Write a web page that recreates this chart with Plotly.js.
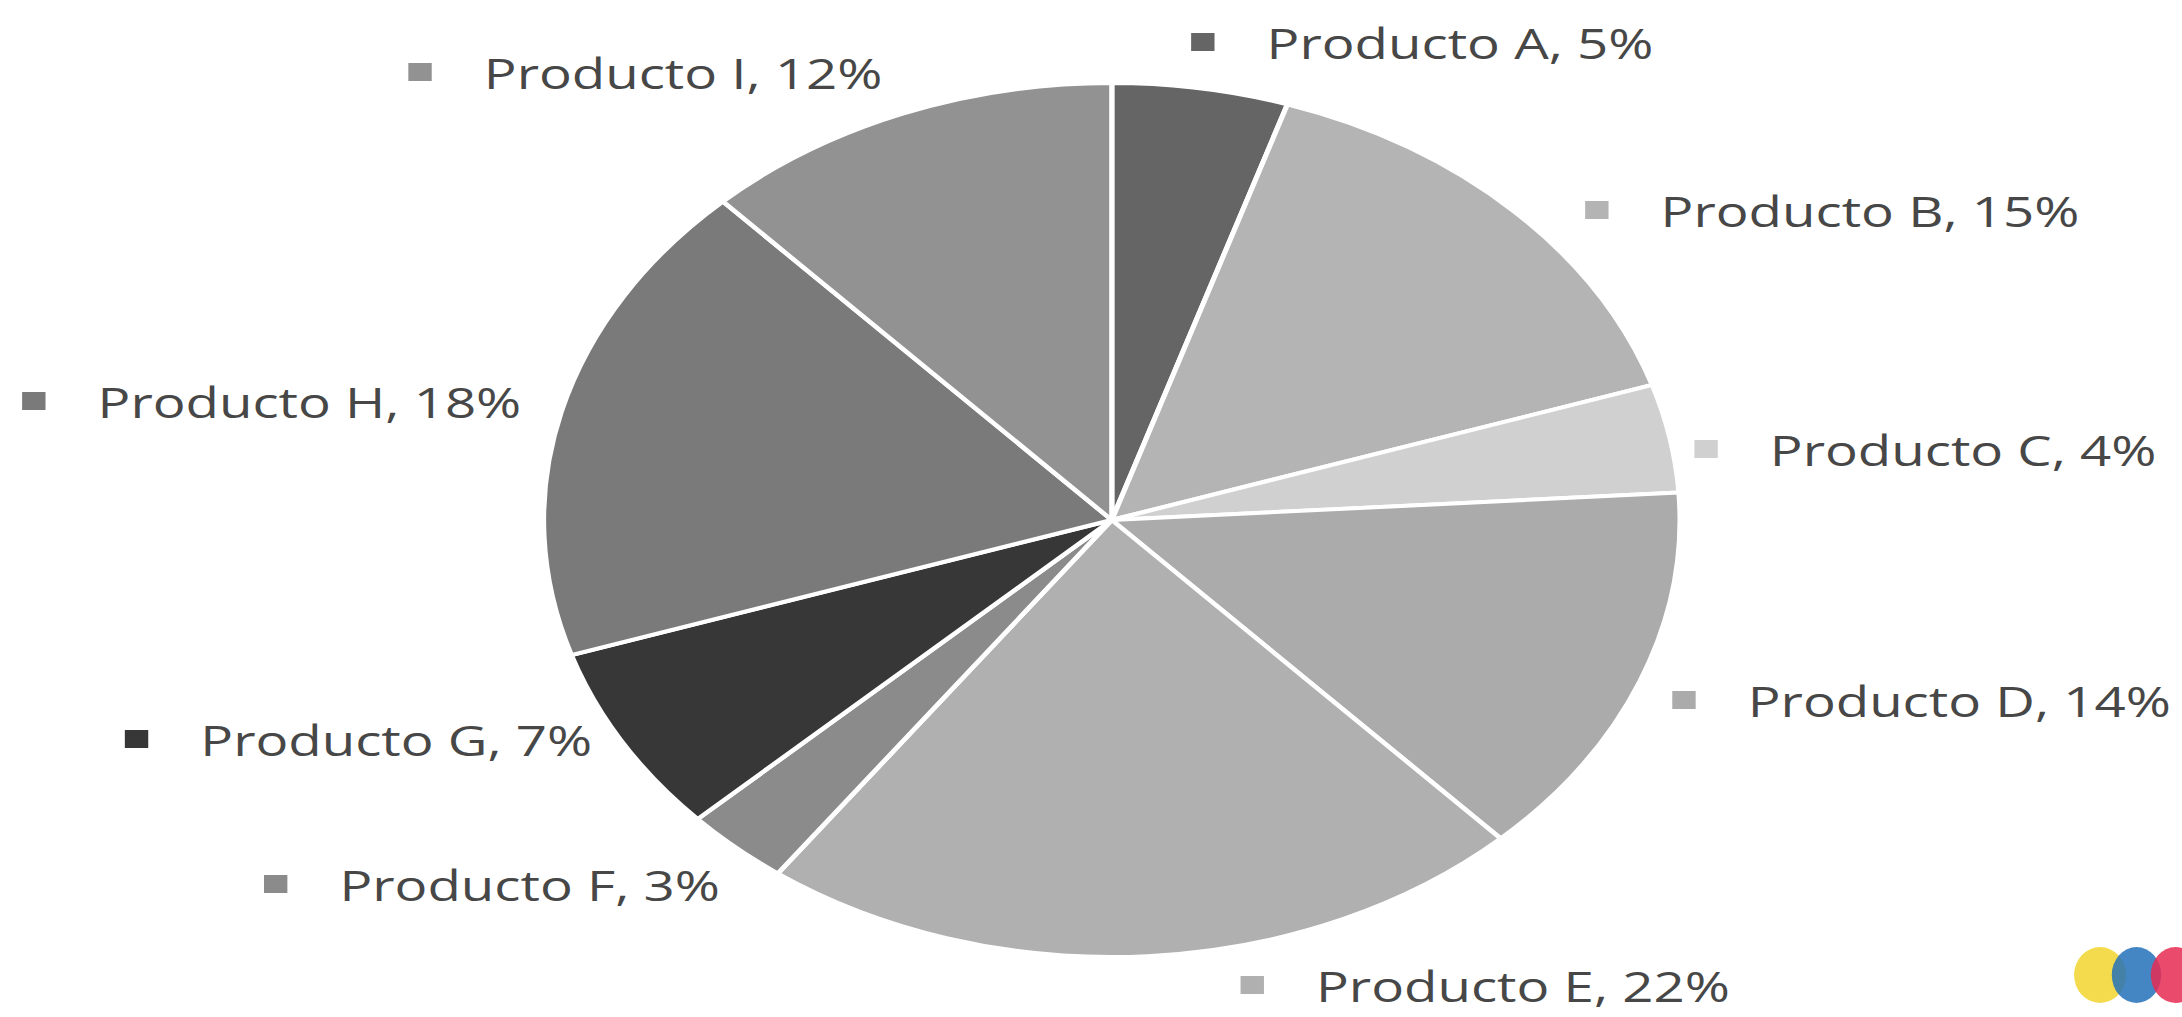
<!DOCTYPE html>
<html>
<head>
<meta charset="utf-8">
<script src="https://cdn.plot.ly/plotly-3.0.1.min.js"></script>
<style>
  html, body { margin: 0; padding: 0; background: #ffffff; overflow: hidden; }
  #chart { position: absolute; left: 0; top: 0; transform-origin: 0 0; }
</style>
</head>
<body>
<div id="chart"></div>
<script>
// ---- data ----
const products = ["Producto A", "Producto B", "Producto C", "Producto D", "Producto E",
                  "Producto F", "Producto G", "Producto H", "Producto I"];
const shares = [5, 15, 4, 14, 22, 3, 7, 18, 12];

// ---- styles / layout ----
const sliceColors = ["#656565", "#b4b4b4", "#d0d0d0", "#ababab", "#b0b0b0",
                     "#8b8b8b", "#373737", "#7a7a7a", "#929292"];
// marker centres of the data labels, in (unstretched) pixels
const labelPos = [[925, 42], [1228, 210], [1312, 449], [1295, 700], [963, 985],
                  [212, 884], [105, 739], [26, 401], [323, 72]];

const W = 1678, H = 1017;          // drawing size before horizontal stretch
const SX = 2182 / W;                // the reference is stretched horizontally
const cx = 855, cy = 520, R = 437;  // pie centre and radius (px)
const gap = 48, box = 18, fontSize = 42;

const chart = document.getElementById('chart');
chart.style.width = W + 'px';
chart.style.height = H + 'px';
chart.style.transform = 'scaleX(' + SX + ')';

const px = x => x / W;
const py = y => 1 - y / H;

const trace = {
  type: 'pie',
  labels: products,
  values: shares,
  sort: false,
  direction: 'clockwise',
  rotation: 0,
  textinfo: 'none',
  hoverinfo: 'label+percent',
  showlegend: false,
  marker: { colors: sliceColors, line: { color: '#ffffff', width: 4 } },
  domain: { x: [px(cx - R), px(cx + R)], y: [py(cy + R), py(cy - R)] }
};

const annotations = products.map((p, i) => ({
  xref: 'paper', yref: 'paper',
  x: px(labelPos[i][0] + gap), y: py(labelPos[i][1]),
  xanchor: 'left', yanchor: 'middle',
  text: p + ', ' + shares[i] + '%',
  showarrow: false,
  borderpad: 0,
  font: { family: 'Open Sans, sans-serif', size: fontSize, color: '#474747' }
}));

const shapes = products.map((p, i) => ({
  type: 'rect', xref: 'paper', yref: 'paper',
  x0: px(labelPos[i][0] - box / 2), x1: px(labelPos[i][0] + box / 2),
  y0: py(labelPos[i][1] + box / 2), y1: py(labelPos[i][1] - box / 2),
  fillcolor: sliceColors[i], line: { width: 0 }
}));

// small watercolour logo bottom-right
const logo = [["#f2d52e", 1595, 1635], ["#2371ba", 1624, 1662], ["#e62a52", 1654, 1692]];
logo.forEach(l => shapes.push({
  type: 'circle', xref: 'paper', yref: 'paper',
  x0: px(l[1]), x1: px(l[2]), y0: py(1003), y1: py(947),
  fillcolor: l[0], opacity: 0.85, line: { width: 0 }
}));

const layout = {
  width: W, height: H,
  margin: { l: 0, r: 0, t: 0, b: 0 },
  paper_bgcolor: '#ffffff',
  plot_bgcolor: '#ffffff',
  annotations: annotations,
  shapes: shapes
};

Plotly.newPlot(chart, [trace], layout, { displayModeBar: false, staticPlot: true });
</script>
</body>
</html>
